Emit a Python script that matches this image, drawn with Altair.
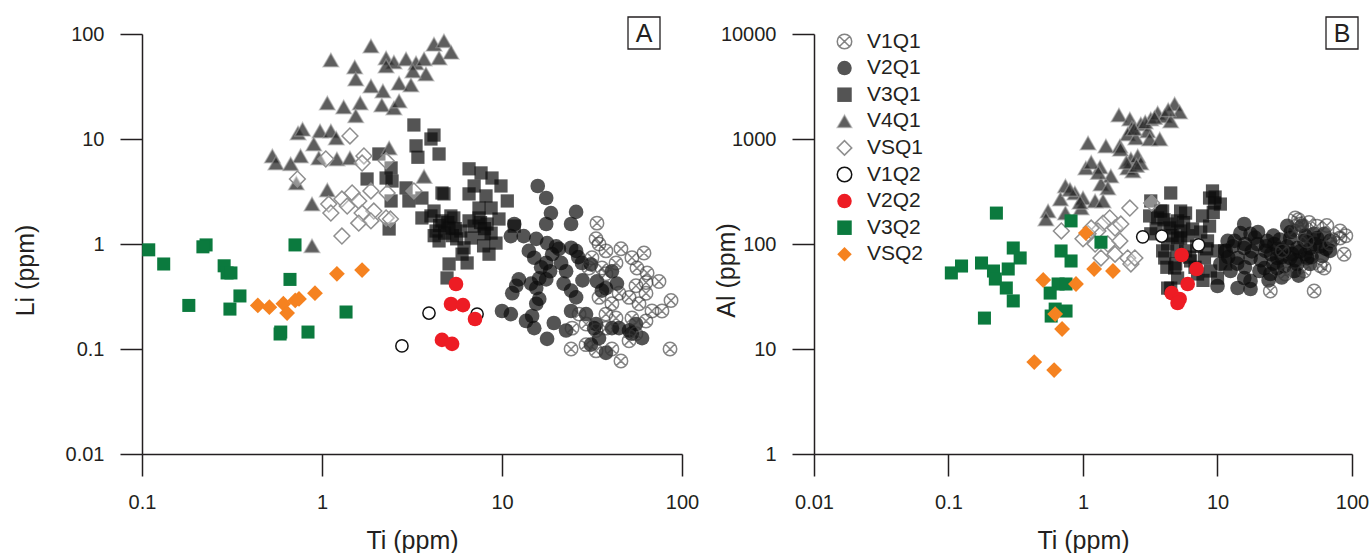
import altair as alt
import pandas as pd

FONT = "Liberation Sans, Arial, Helvetica, sans-serif"
INK = "#231f20"

SERIES = ["V1Q1", "V2Q1", "V3Q1", "V4Q1", "VSQ1", "V1Q2", "V2Q2", "V3Q2", "VSQ2"]
DRAW_ORDER = ["V2Q1", "V3Q1", "V4Q1", "V1Q1", "VSQ1", "V1Q2", "V2Q2", "V3Q2", "VSQ2"]

# ---------------- Panel A : (Ti ppm, Li ppm) ----------------
A_V1Q1 = [(33.7, 1.58), (33.3, 1.12), (34.6, 1.0), (37.8, 0.86), (45.8, 0.9), (52.7, 0.74), (61.5, 0.82),
          (56.2, 0.59), (63.1, 0.43), (55.5, 0.40), (63.1, 0.34), (30.4, 0.59), (31.6, 0.74), (35.9, 0.59),
          (37.8, 0.52), (43.0, 0.66), (44.7, 0.34), (50.8, 0.31), (57.7, 0.27), (68.1, 0.23), (77.4, 0.23),
          (86.9, 0.29), (40.8, 0.27), (37.8, 0.215), (43.0, 0.197), (52.7, 0.197), (63.1, 0.185), (26.8, 0.215),
          (24.5, 0.158), (29.3, 0.173), (33.3, 0.15), (37.8, 0.158), (24.2, 0.10), (29.3, 0.11), (33.3, 0.096),
          (40.8, 0.10), (45.8, 0.077), (50.8, 0.12), (55.5, 0.14), (85.8, 0.10), (34.6, 0.31), (74.5, 0.44),
          (64.0, 0.53)]
A_V2Q1 = [(15.8, 3.57), (17.6, 2.74), (18.7, 1.97), (17.6, 1.55), (25.8, 2.02), (24.2, 1.55), (11.7, 1.55),
          (11.2, 1.19), (13.2, 1.19), (15.5, 1.12), (17.8, 1.02), (20.7, 0.9), (24.2, 0.92), (25.8, 0.86),
          (14.1, 0.86), (17.6, 0.66), (21.3, 0.66), (15.1, 0.74), (22.7, 0.55), (27.8, 0.66), (16.1, 0.47),
          (14.5, 0.42), (12.4, 0.46), (12.0, 0.40), (11.4, 0.34), (15.5, 0.38), (17.6, 0.46), (31.2, 0.64),
          (24.2, 0.36), (25.8, 0.31), (15.5, 0.27), (16.1, 0.30), (10.0, 0.23), (11.2, 0.215), (14.7, 0.206),
          (13.6, 0.185), (15.1, 0.158), (17.8, 0.125), (19.4, 0.177), (22.7, 0.15), (24.2, 0.23), (29.3, 0.215),
          (33.3, 0.173), (34.6, 0.127), (37.8, 0.092), (35.9, 0.36), (37.8, 0.38), (33.7, 0.44), (43.5, 0.42),
          (40.8, 0.55), (32.5, 0.158), (40.8, 0.158), (44.7, 0.158), (50.8, 0.15), (55.5, 0.173), (52.5, 0.14),
          (60.0, 0.127), (31.2, 0.11), (19.0, 0.80), (20.0, 0.95), (16.5, 0.60), (18.5, 0.55), (26.5, 0.75),
          (28.0, 0.45), (22.0, 0.42)]
A_V3Q1 = [(3.24, 13.6), (4.19, 10.9), (4.03, 10.0), (3.33, 8.6), (4.47, 7.2), (3.41, 6.7), (2.07, 7.2),
          (2.42, 5.3), (2.27, 4.25), (1.78, 4.16), (2.45, 3.98), (2.93, 3.42), (3.04, 2.57), (3.59, 2.74),
          (4.76, 3.0), (2.42, 2.57), (2.36, 1.39), (6.56, 5.2), (6.56, 3.0), (7.65, 4.75), (8.8, 4.25),
          (9.87, 3.57), (4.64, 3.06), (7.0, 3.57), (8.15, 2.87), (10.7, 2.57), (4.03, 1.85), (4.64, 1.66),
          (5.4, 1.77), (4.3, 1.33), (5.08, 1.42), (5.9, 1.33), (6.56, 1.66), (7.45, 1.77), (8.26, 1.55),
          (9.62, 1.73), (7.94, 1.25), (9.26, 1.02), (6.15, 0.92), (6.73, 1.14), (8.47, 0.80), (6.0, 0.80),
          (5.08, 0.645), (6.4, 0.66), (4.95, 0.475), (11.7, 1.48), (4.47, 1.07), (7.45, 2.2), (8.7, 2.2),
          (4.19, 2.06), (3.59, 1.77), (4.8, 1.27), (5.6, 1.12), (7.0, 1.48), (8.7, 1.27), (5.2, 1.85),
          (7.9, 0.96), (4.5, 1.5), (5.0, 1.6), (5.5, 1.4), (4.2, 1.2), (7.6, 1.6), (8.0, 1.4), (5.3, 1.2)]
A_V4Q1 = [(1.87, 76.9), (1.12, 56.5), (2.27, 59.0), (2.51, 54.0), (2.93, 57.8), (3.33, 53.0), (3.69, 57.8),
          (4.19, 80.0), (4.76, 86.0), (5.21, 67.0), (4.47, 59.0), (3.78, 41.6), (3.2, 44.5), (2.68, 34.0),
          (3.12, 32.7), (2.18, 28.7), (1.87, 32.0), (1.52, 48.5), (1.54, 37.3), (2.27, 49.6), (1.07, 22.0),
          (1.32, 20.2), (1.63, 22.0), (1.54, 16.6), (2.15, 21.0), (2.51, 19.7), (2.68, 23.0), (0.736, 11.4),
          (0.78, 12.4), (0.975, 11.9), (1.12, 11.9), (1.2, 10.2), (0.9, 8.96), (0.53, 6.9), (0.555, 5.9),
          (0.76, 6.9), (0.67, 5.8), (0.96, 6.6), (1.21, 6.45), (1.43, 6.6), (2.36, 8.2), (0.72, 3.8),
          (1.07, 3.27), (0.88, 2.4), (3.69, 4.4), (0.88, 0.96)]
A_VSQ1 = [(1.43, 10.7), (1.71, 6.9), (1.67, 5.9), (2.27, 6.2), (1.05, 6.45), (0.73, 4.16), (2.3, 3.06),
          (3.24, 3.2), (1.09, 2.4), (1.12, 1.97), (1.29, 2.68), (1.47, 3.06), (1.38, 2.3), (1.6, 2.57),
          (1.87, 3.2), (1.94, 2.06), (1.67, 1.97), (1.6, 1.58), (1.87, 1.66), (2.27, 1.77), (2.4, 1.73),
          (1.29, 1.19)]
A_V1Q2 = [(3.93, 0.22), (7.27, 0.215), (2.78, 0.107)]
A_V2Q2 = [(5.55, 0.416), (5.21, 0.268), (6.07, 0.262), (7.08, 0.193), (4.64, 0.122), (5.28, 0.112)]
A_V3Q2 = [(0.109, 0.88), (0.132, 0.645), (0.227, 0.98), (0.218, 0.94), (0.286, 0.62), (0.297, 0.53),
          (0.312, 0.53), (0.35, 0.32), (0.182, 0.26), (0.308, 0.24), (0.708, 0.98), (0.664, 0.46),
          (1.36, 0.225), (0.585, 0.139), (0.59, 0.145), (0.836, 0.145)]
A_VSQ2 = [(0.44, 0.26), (0.51, 0.25), (0.61, 0.27), (0.64, 0.22), (0.71, 0.29), (0.745, 0.30),
          (0.914, 0.34), (1.21, 0.52), (1.67, 0.565)]

# ---------------- Panel B : (Ti ppm, Al ppm) ----------------
B_V1Q1 = [(37.8, 177), (41.2, 155), (37.2, 133), (55.0, 148), (81.5, 133), (87.3, 80), (62.1, 59),
          (44.1, 55.3), (31.9, 51.8), (24.7, 35.7), (52.3, 35.7), (68.7, 100), (81.5, 114), (46.4, 107),
          (30.3, 86), (90.0, 120), (58.0, 62), (72.0, 110), (65.0, 150), (48.0, 160), (40.0, 170)]
B_V2Q1 = [(15.8, 155), (14.8, 127), (17.6, 125), (13.4, 107), (11.5, 86), (10.5, 64.5), (12.5, 55.3),
          (14.1, 73.6), (15.8, 91.6), (17.6, 73.6), (19.8, 100), (22.7, 86), (26.4, 100), (27.8, 73.6),
          (31.3, 86), (34.7, 114), (39.2, 91.6), (44.1, 107), (48.8, 91.6), (55.0, 114), (62.1, 125),
          (68.7, 107), (34.7, 73.6), (46.4, 73.6), (22.3, 59), (27.8, 59), (15.8, 47.4), (10.0, 39.8),
          (14.1, 38.1), (17.6, 37.3), (20.5, 55.3), (24.7, 51.8), (31.3, 61.7), (39.2, 64.5), (48.8, 64.5),
          (60.0, 76.9), (68.7, 86), (37.2, 55.3), (17.6, 44.5), (11.9, 107), (23.4, 107), (33.0, 149),
          (42.4, 149), (12.0, 75), (13.0, 95), (16.0, 60), (18.0, 85), (19.0, 115), (21.0, 70), (23.0, 95),
          (25.0, 80), (26.0, 65), (28.0, 90), (30.0, 75), (33.0, 95), (36.0, 80), (38.0, 70), (41.0, 85),
          (45.0, 80), (50.0, 75), (53.0, 100), (58.0, 95), (64.0, 90), (29.0, 110), (35.0, 130), (45.0, 120),
          (52.0, 125), (20.0, 130), (26.0, 120), (14.0, 65), (16.0, 100), (24.0, 45), (30.0, 48), (40.0, 50)]
B_V3Q1 = [(4.49, 306), (3.19, 257), (5.32, 206), (3.78, 206), (3.59, 177), (4.49, 155), (5.32, 133),
          (4.26, 100), (5.32, 114), (4.05, 73.6), (4.8, 59), (4.26, 38), (9.18, 320), (8.73, 274),
          (10.5, 240), (9.5, 246), (3.13, 185), (3.91, 206), (5.79, 197), (7.74, 185), (5.05, 166),
          (6.53, 139), (8.73, 148), (3.19, 125), (4.41, 142), (5.05, 114), (8.43, 107), (10.0, 86),
          (3.91, 86), (5.79, 86), (4.89, 64.5), (6.31, 69), (8.0, 73.6), (7.11, 51.8), (8.87, 55.3),
          (5.05, 47.4), (4.49, 38), (11.3, 86), (11.5, 64.5), (10.0, 47.4), (4.0, 170), (4.6, 120),
          (5.6, 160), (6.0, 120), (7.0, 95), (6.2, 75), (5.0, 85), (7.5, 130), (8.3, 90), (9.3, 200),
          (9.6, 280), (3.5, 140), (4.2, 60), (6.8, 60), (7.8, 45)]
B_V4Q1 = [(1.85, 1694), (2.23, 1549), (2.31, 1273), (2.69, 1390), (3.19, 1549), (3.59, 1770), (4.05, 1656),
          (4.8, 2154), (5.23, 1808), (4.49, 1483), (2.15, 1116), (2.47, 1023), (3.03, 1192), (3.13, 1000),
          (3.72, 1000), (1.09, 916), (1.48, 857), (1.88, 857), (2.27, 645), (2.55, 689), (2.15, 529),
          (2.35, 496), (2.69, 591), (1.05, 529), (1.34, 541), (1.61, 444), (1.36, 373), (1.53, 341),
          (0.74, 357), (0.87, 306), (1.0, 274), (0.68, 268), (0.97, 220), (1.23, 257), (1.41, 257),
          (0.55, 206), (0.53, 173), (0.74, 197), (2.4, 1250), (2.9, 1450), (3.4, 1600), (4.3, 1900),
          (1.9, 800), (2.1, 600), (2.5, 560), (1.15, 600), (1.3, 480), (0.8, 330), (0.95, 250)]
B_VSQ1 = [(2.23, 220), (3.24, 246), (1.58, 177), (1.41, 158), (1.73, 142), (1.29, 133), (1.09, 125),
          (0.69, 133), (1.23, 100), (1.53, 100), (1.88, 107), (1.36, 73.6), (1.73, 80), (2.15, 73.6),
          (2.27, 64.5), (1.0, 112), (1.15, 142), (1.91, 155), (2.43, 73.6)]
B_V1Q2 = [(2.78, 117), (3.85, 119), (7.23, 98)]
B_V2Q2 = [(5.41, 78.6), (6.99, 57.8), (6.0, 41.6), (4.56, 34.1), (5.23, 29.9), (5.05, 27.4)]
B_V3Q2 = [(0.227, 197), (0.815, 166), (1.36, 104), (0.303, 91.6), (0.341, 73.6), (0.278, 57.8),
          (0.176, 65.9), (0.216, 55.3), (0.223, 46.4), (0.125, 61.7), (0.105, 53), (0.269, 38.1),
          (0.303, 28.7), (0.687, 85.8), (0.815, 68.9), (0.653, 41.6), (0.57, 34.1), (0.748, 41.6),
          (0.621, 24.0), (0.748, 23.0), (0.58, 20.6), (0.185, 19.7)]
B_VSQ2 = [(1.05, 127), (0.506, 45.4), (0.887, 41.6), (1.21, 57.8), (1.67, 55.3), (0.621, 21.5),
          (0.699, 15.5), (0.434, 7.5), (0.61, 6.3)]

A_X_TICKS = [0.1, 1, 10, 100]
A_Y_TICKS = [0.01, 0.1, 1, 10, 100]
B_X_TICKS = [0.01, 0.1, 1, 10, 100]
B_Y_TICKS = [1, 10, 100, 1000, 10000]

PANEL_A = {"V1Q1": A_V1Q1, "V2Q1": A_V2Q1, "V3Q1": A_V3Q1, "V4Q1": A_V4Q1, "VSQ1": A_VSQ1,
           "V1Q2": A_V1Q2, "V2Q2": A_V2Q2, "V3Q2": A_V3Q2, "VSQ2": A_VSQ2}
PANEL_B = {"V1Q1": B_V1Q1, "V2Q1": B_V2Q1, "V3Q1": B_V3Q1, "V4Q1": B_V4Q1, "VSQ1": B_VSQ1,
           "V1Q2": B_V1Q2, "V2Q2": B_V2Q2, "V3Q2": B_V3Q2, "VSQ2": B_VSQ2}


def frame(panel, ycol):
    rows = []
    for s in DRAW_ORDER:
        for ti, v in panel[s]:
            rows.append({"series": s, "Ti": ti, ycol: v})
    return pd.DataFrame(rows)


# ---------------- styles ----------------
CROSS = "M-1,0A1,1,0,1,1,1,0A1,1,0,1,1,-1,0ZM-0.7,-0.7L0.7,0.7M-0.7,0.7L0.7,-0.7"
SHAPES = [CROSS, "circle", "square", "triangle-up", "diamond", "circle", "circle", "square", "diamond"]
FILLS = ["transparent", "rgba(12,12,12,0.7)", "rgba(12,12,12,0.7)", "rgba(40,40,40,0.75)",
         "rgba(255,255,255,0.35)", "#ffffff", "#ed1c24", "#0b7a3e", "#f58220"]
STROKES = ["rgba(55,55,55,0.62)", "transparent", "transparent", "rgba(160,160,160,0.55)",
           "#8f8f8f", "#111111", "transparent", "transparent", "transparent"]
SIZES = {"V1Q1": 180, "V2Q1": 215, "V3Q1": 175, "V4Q1": 240, "VSQ1": 250,
         "V1Q2": 150, "V2Q2": 215, "V3Q2": 170, "VSQ2": 250}


def panel(panel_data, ycol, xdom, ydom, xt, yt, ytitle, letter, box_x, width, ytitle_x, show_legend):
    df = frame(panel_data, ycol)
    if show_legend:
        leg = alt.Legend(title=None, orient="none", legendX=20, legendY=-3)
    else:
        leg = None
    layers = []
    for s in DRAW_ORDER:
        layers.append(
            alt.Chart(df)
            .transform_filter(alt.datum.series == s)
            .mark_point(size=SIZES[s], strokeWidth=1.5, opacity=1)
            .encode(
                x=alt.X("Ti:Q",
                        scale=alt.Scale(type="log", domain=xdom, nice=False),
                        axis=alt.Axis(values=xt, format="~g", title="Ti (ppm)", labelFlush=False,
                                      titleY=86, titleBaseline="middle")),
                y=alt.Y(f"{ycol}:Q",
                        scale=alt.Scale(type="log", domain=ydom, nice=False),
                        axis=alt.Axis(values=yt, format="~g", title=ytitle, titleX=ytitle_x,
                                      labelFlush=False, titleY=236, titleAngle=270,
                                      titleAlign="center", titleBaseline="middle")),
                shape=alt.Shape("series:N", scale=alt.Scale(domain=SERIES, range=SHAPES), legend=leg),
                fill=alt.Fill("series:N", scale=alt.Scale(domain=SERIES, range=FILLS), legend=leg),
                stroke=alt.Stroke("series:N", scale=alt.Scale(domain=SERIES, range=STROKES), legend=leg),
            )
        )
    box_df = pd.DataFrame({"k": [letter]})
    box = alt.Chart(box_df).mark_rect(fill="#ffffff", fillOpacity=0, stroke=INK, strokeWidth=1.3).encode(
        x=alt.value(box_x), x2=alt.value(box_x + 32), y=alt.value(-17), y2=alt.value(15))
    txt = alt.Chart(box_df).mark_text(text=letter, font=FONT, fontSize=25, align="center",
                                      baseline="middle", color=INK).encode(
        x=alt.value(box_x + 16), y=alt.value(0))
    return alt.layer(*layers, box, txt).properties(width=width, height=420)


chart_a = panel(PANEL_A, "Li", [0.1, 100], [0.01, 100], A_X_TICKS, A_Y_TICKS, "Li (ppm)", "A",
                486, 540, -117, False)
chart_b = panel(PANEL_B, "Al", [0.01, 100], [1, 10000], B_X_TICKS, B_Y_TICKS, "Al (ppm)", "B",
                512, 538, -88, True)

chart = (
    alt.hconcat(chart_a, chart_b, spacing=132, bounds="flush")
    .resolve_scale(shape="independent", fill="independent", stroke="independent")
    .properties(padding={"left": 13, "top": 16, "right": 0, "bottom": 0})
    .configure_view(strokeWidth=0)
    .configure_axis(
        grid=False, labelFont=FONT, titleFont=FONT, labelFontSize=20, titleFontSize=25,
        titleFontWeight="normal", labelColor=INK, titleColor=INK, domainColor=INK, tickColor=INK,
        domainWidth=1.5, tickWidth=1.5, tickSize=22, labelPadding=16,
    )
    .configure_legend(
        labelFont=FONT, labelFontSize=21, labelColor=INK, symbolSize=210, symbolStrokeWidth=1.5,
        rowPadding=4.6, labelOffset=12, padding=0,
    )
)

chart.save("out.html", embed_options={"renderer": "svg", "actions": False})
